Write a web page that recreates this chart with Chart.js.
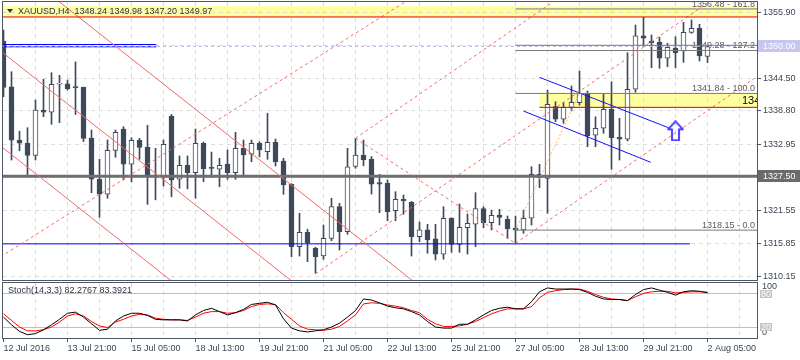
<!DOCTYPE html>
<html><head><meta charset="utf-8">
<script src="https://cdn.jsdelivr.net/npm/chart.js@4/dist/chart.umd.min.js"></script>
<style>
html,body{margin:0;padding:0;background:#fff;width:800px;height:360px;overflow:hidden}
#c1{position:absolute;left:0;top:0}
#c2{position:absolute;left:0;top:281px}
</style></head><body>
<canvas id="c1" width="800" height="282"></canvas>
<canvas id="c2" width="800" height="79"></canvas>
<script>
// ---------------- DATA ----------------
const symbol = 'XAUUSD', timeframe = 'H4';
const opens  = [1350.93,1343.00,1333.77,1333.25,1331.10,1338.97,1338.57,1343.45,1343.50,1342.95,
                1342.90,1334.06,1326.96,1324.36,1331.98,1335.67,1329.56,1333.70,1332.55,1327.50,
                1327.53,1337.93,1326.96,1329.40,1328.10,1333.20,1328.90,1328.70,1329.60,1328.10,
                1332.33,1331.30,1333.20,1331.75,1333.37,1330.13,1326.10,1315.28,1317.77,1315.00,
                1313.66,1316.73,1322.21,1317.88,1329.20,1331.17,1330.42,1326.40,1326.27,1321.52,
                1323.50,1323.00,1317.00,1318.20,1316.62,1313.96,1320.20,1315.69,1318.57,1319.16,
                1321.90,1319.44,1320.77,1320.03,1318.50,1318.17,1320.20,1327.82,1327.13,1339.54,
                1337.36,1339.43,1340.23,1341.86,1334.60,1335.80,1339.10,1334.24,1333.90,1342.56,
                1351.84,1350.93,1350.70,1347.93,1349.67,1349.20,1352.43,1353.13,1348.24];
const highs  = [1352.80,1345.60,1335.30,1335.90,1340.70,1344.29,1345.43,1344.98,1344.17,1347.30,
                1342.95,1335.50,1330.42,1333.77,1335.50,1336.07,1334.17,1334.06,1336.32,1332.33,
                1333.77,1338.20,1331.00,1331.00,1335.67,1333.40,1331.68,1330.60,1332.04,1335.10,
                1333.77,1333.77,1333.47,1338.40,1333.94,1330.60,1326.20,1321.07,1318.30,1315.17,
                1319.04,1323.67,1322.80,1332.33,1334.06,1333.77,1330.90,1327.83,1326.84,1324.81,
                1324.24,1323.10,1319.56,1319.16,1319.16,1322.21,1320.30,1322.68,1320.94,1324.64,
                1322.21,1321.63,1321.76,1320.60,1320.60,1321.63,1329.14,1329.56,1342.43,1340.41,
                1340.30,1343.13,1345.73,1342.26,1337.80,1341.74,1343.87,1337.53,1348.90,1353.70,
                1355.03,1351.97,1351.57,1350.53,1351.67,1354.17,1354.57,1353.82,1349.98];
const lows   = [1341.27,1330.30,1331.90,1327.65,1330.30,1337.80,1336.49,1336.77,1342.43,1338.20,
                1333.50,1324.64,1320.37,1323.67,1330.77,1326.84,1326.49,1330.42,1322.62,1323.40,
                1325.80,1323.94,1325.40,1325.30,1323.67,1326.54,1327.30,1325.67,1326.96,1326.96,
                1327.53,1330.00,1330.87,1330.42,1329.26,1324.36,1313.54,1313.66,1312.68,1310.67,
                1313.10,1316.32,1314.70,1317.43,1328.86,1329.30,1324.40,1321.17,1319.78,1319.78,
                1320.89,1313.66,1316.15,1314.13,1312.97,1313.10,1314.30,1314.30,1314.00,1315.28,
                1318.57,1318.17,1319.04,1316.73,1315.87,1317.60,1319.04,1325.50,1321.07,1336.94,
                1336.66,1338.80,1339.83,1332.60,1332.60,1334.93,1328.69,1330.30,1333.60,1342.04,
                1349.94,1346.30,1346.20,1346.47,1346.30,1347.23,1352.26,1347.46,1347.20];
const closes = [1342.87,1333.75,1333.20,1331.10,1338.97,1338.57,1343.42,1343.60,1342.60,1342.85,
                1334.06,1326.96,1324.36,1331.98,1335.10,1329.56,1333.70,1332.50,1327.53,1327.60,
                1333.02,1326.84,1329.40,1328.10,1333.20,1328.80,1328.85,1329.40,1328.10,1332.33,
                1331.20,1333.20,1332.04,1333.37,1330.00,1325.97,1315.28,1317.77,1315.97,1313.54,
                1316.73,1322.21,1317.88,1329.14,1331.17,1330.30,1326.10,1326.10,1321.34,1323.50,
                1323.20,1317.00,1318.20,1316.44,1313.96,1320.20,1315.69,1318.64,1319.33,1321.90,
                1319.44,1320.72,1320.37,1318.35,1318.15,1320.20,1327.82,1327.23,1339.96,1337.36,
                1339.43,1340.30,1341.84,1334.51,1335.80,1339.10,1334.17,1333.90,1342.56,1351.84,
                1351.40,1350.63,1347.93,1349.84,1348.90,1352.43,1353.13,1348.33,1349.97];
const stochParams = '14,3,3';
const stochK = [38,24,12,6,8,15,24,34,45,47, 38,26,14,16,31,40,45,45,41,34,
                33,33,33,31,42,50,54,48,42,46, 52,61,63,65,60,35,18,13,11,13,
                15,20,27,38,50,71,69,64,58,55, 53,48,42,30,20,18,18,25,25,33,
                42,50,54,56,53,53,66,84,91,89, 89,89,88,83,76,71,70,70,68,79,
                88,91,87,83,78,84,86,85,82.2767];
const stochD = [44,32,20,13,13,15,20,29,40,44, 40,30,22,19,29,34,40,43,42,36,
                34,33,33,32,38,45,48,48,45,46, 50,57,61,62,61,46,34,22,16,15,
                14,16,21,31,42,62,64,63,60,58, 55,50,46,34,26,21,21,22,25,30,
                37,44,49,53,53,53,57,73,83,86, 88,89,89,85,79,74,71,70,68,75,
                81,84,85,85,82,83,84,84,83.3921];
const stochLevels = [20, 80];
const xLabelIdx = [0,8,16,24,32,40,48,56,64,72,80,88];
const xLabels = ['12 Jul 2016','13 Jul 21:00','15 Jul 05:00','18 Jul 13:00','19 Jul 21:00','21 Jul 05:00',
                 '22 Jul 13:00','25 Jul 21:00','27 Jul 05:00','28 Jul 13:00','29 Jul 21:00','2 Aug 05:00'];
const yTickValues = [1310.15,1315.85,1321.55,1327.25,1332.95,1338.80,1344.50,1350.20,1355.90];
const yTickHidden = [1327.25,1350.20];
const supportLevel = 1327.50;
const askLevel = 1350.00;
const blueLevel = 1315.77, blueLevelEnd = 85.8;
const blueTopLevels = [1350.32, 1349.92], blueTopEnd = 19.1;
const zoneTop = [1356.95, 1355.09];
const zoneMid = [1341.84, 1339.43], zoneMidStart = 67;
const fibStart = 64;
const fibLevels = [0, 100, 127.2, 161.8];
const fibPrices = [1318.15, 1341.84, 1349.28, 1356.48];
const fibExtraLine = 1350.18;
const fibAnchors = [[64,1318.15],[72,1341.84]];
const redChannel = [ [[5,1359.88],[52,1308.45]], [[-1,1349.89],[41,1303.88]], [[-1,1333.43],[26,1303.85]] ];
const redDashed = [[-1,1312.97],[52,1359.26]];
const pitchfork = [[39,1310.60],[44,1334.06],[64,1315.87]];
const blueChannel = [ [[67,1344.63],[83.3,1335.80]], [[65,1338.79],[80.9,1329.90]] ];
const arrowPoint = [84, 1335.35];
const boxLabelText = '1340.00';

// ---------------- STYLE ----------------
const XMIN = -0.0625, XMAX = 94.1875;
const YMIN = 1309.505, YMAX = 1357.685;
const CANDLE = '#3e4a5b', FRAME = '#4e5864', GRID = '#dcdcdc', TXT = '#3c4654';
const RED = '#f06a6a', YELLOW = '#ffffa0';
const FONT = '9px "Liberation Sans", Arial, sans-serif';
Chart.defaults.font.family = '"Liberation Sans", Arial, sans-serif';
Chart.defaults.font.size = 9;
Chart.defaults.animation = false;

const idx = opens.map((_, i) => i);
const wickData = idx.map(i => ({x: i, y: [lows[i], highs[i]]}));
const bodyData = idx.map(i => ({x: i, y: [Math.min(opens[i], closes[i]), Math.max(opens[i], closes[i])]}));
const bodyFill = idx.map(i => closes[i] >= opens[i] ? '#ffffff' : CANDLE);

function seg(pts, color, width, dash, order) {
  return {type: 'line', data: pts.map(p => ({x: p[0], y: p[1]})), borderColor: color, borderWidth: width,
          borderDash: dash || [], pointRadius: 0, pointHoverRadius: 0, fill: false, tension: 0,
          order: order === undefined ? 1 : order};
}
const FAR = XMAX + 1;
const lineSets = [];
lineSets.push(seg([[XMIN - 1, zoneTop[1]], [FAR, zoneTop[1]]], '#e00000', 1));
lineSets.push(seg([[zoneMidStart, zoneMid[1]], [FAR, zoneMid[1]]], '#e00000', 1));
redChannel.forEach(l => lineSets.push(seg(l, RED, 1)));
lineSets.push(seg(redDashed, RED, 1, [3, 3]));
const [P1, P2, P3] = pitchfork;
const mid = [(P2[0] + P3[0]) / 2, (P2[1] + P3[1]) / 2];
const pfSlope = (mid[1] - P1[1]) / (mid[0] - P1[0]);
[P1, P2, P3].forEach(p => lineSets.push(seg([p, [FAR, p[1] + pfSlope * (FAR - p[0])]], RED, 1, [3, 3])));
lineSets.push(seg([P2, P3], RED, 1, [3, 3]));
fibPrices.forEach(p => lineSets.push(seg([[fibStart, p], [FAR, p]], '#7a7a7a', 1)));
lineSets.push(seg([[fibStart, fibExtraLine], [FAR, fibExtraLine]], '#7a7a7a', 1));
lineSets.push(seg(fibAnchors, '#ffb46e', 1, [2, 2]));
lineSets.push(seg([[XMIN - 1, askLevel], [FAR, askLevel]], '#b4b4e6', 1, [3, 3]));
blueTopLevels.forEach(v => lineSets.push(seg([[XMIN - 1, v], [blueTopEnd, v]], '#0000ff', 1)));
lineSets.push(seg([[XMIN - 1, blueLevel], [blueLevelEnd, blueLevel]], '#0000ff', 1));
lineSets.push(seg([[XMIN - 1, supportLevel], [FAR, supportLevel]], '#6e6e6e', 3));
blueChannel.forEach(l => lineSets.push(seg(l, '#1010ff', 1)));

const arrow = document.createElement('canvas');
arrow.width = 17; arrow.height = 21;
(function () {
  const c = arrow.getContext('2d');
  c.beginPath();
  c.moveTo(8.5, 1); c.lineTo(16, 9); c.lineTo(12, 9); c.lineTo(12, 20); c.lineTo(5, 20); c.lineTo(5, 9); c.lineTo(1, 9);
  c.closePath();
  c.lineWidth = 2.2; c.strokeStyle = '#8a6cff'; c.stroke();
  c.lineWidth = 1; c.strokeStyle = '#2020ff'; c.stroke();
})();

const mainPlugin = {
  id: 'mainDeco',
  beforeDraw(chart) {
    const {ctx, chartArea: a, scales: {x, y}} = chart;
    ctx.save();
    ctx.beginPath(); ctx.rect(a.left, a.top, a.width, a.height); ctx.clip();
    ctx.fillStyle = YELLOW;
    let y1 = y.getPixelForValue(zoneTop[0]), y2 = y.getPixelForValue(zoneTop[1]);
    ctx.fillRect(a.left, y1, a.width, y2 - y1);
    const xs = x.getPixelForValue(zoneMidStart);
    y1 = y.getPixelForValue(zoneMid[0]); y2 = y.getPixelForValue(zoneMid[1]);
    ctx.fillRect(xs, y1, a.right - xs, y2 - y1);
    ctx.restore();
  },
  beforeDatasetsDraw(chart) {
    const {ctx, chartArea: a, scales: {y}} = chart;
    ctx.save();
    ctx.beginPath(); ctx.rect(a.left, a.top, a.width, a.height); ctx.clip();
    ctx.font = FONT; ctx.fillStyle = '#5a5a5a'; ctx.textAlign = 'right'; ctx.textBaseline = 'alphabetic';
    fibPrices.forEach((p, k) => {
      ctx.fillText(p.toFixed(2) + ' - ' + fibLevels[k].toFixed(1), a.right - 2, y.getPixelForValue(p) - 2);
    });
    ctx.restore();
  },
  afterDatasetsDraw(chart) {
    const {ctx, chartArea: a, scales: {y}} = chart;
    ctx.save();
    ctx.beginPath(); ctx.rect(a.left, a.top, a.width, a.height); ctx.clip();
    ctx.font = '11px "Liberation Sans", Arial, sans-serif'; ctx.fillStyle = '#000';
    ctx.textAlign = 'left'; ctx.textBaseline = 'middle';
    ctx.fillText(boxLabelText, a.right - 15, (y.getPixelForValue(zoneMid[0]) + y.getPixelForValue(zoneMid[1])) / 2 + 1);
    ctx.restore();
  },
  afterDraw(chart) {
    const {ctx, chartArea: a, scales: {y}} = chart;
    ctx.save();
    ctx.strokeStyle = FRAME; ctx.lineWidth = 1;
    ctx.strokeRect(a.left - 0.5, a.top - 0.5, a.width + 1, a.height + 1);
    ctx.fillStyle = '#333';
    ctx.beginPath(); ctx.moveTo(7, 9); ctx.lineTo(13, 9); ctx.lineTo(10, 13); ctx.closePath(); ctx.fill();
    const n = opens.length - 1;
    ctx.font = FONT; ctx.fillStyle = '#2b3440'; ctx.textAlign = 'left'; ctx.textBaseline = 'middle';
    ctx.fillText(symbol + ',' + timeframe + '  ' + [opens[n], highs[n], lows[n], closes[n]].map(v => v.toFixed(2)).join(' '), 18, 11.5);
    const box = (v, bg) => {
      const py = Math.round(y.getPixelForValue(v));
      ctx.fillStyle = bg; ctx.fillRect(a.right + 1, py - 6, 800 - a.right - 1, 12);
      ctx.fillStyle = '#ffffff'; ctx.fillText(v.toFixed(2), 763, py + 0.5);
    };
    box(askLevel, '#c6c6f0');
    box(supportLevel, '#6a6a6a');
    ctx.restore();
  }
};

new Chart(document.getElementById('c1'), {
  type: 'bar',
  data: {
    datasets: [
      ...lineSets,
      {type: 'line', data: [{x: arrowPoint[0], y: arrowPoint[1]}], showLine: false, pointStyle: arrow, pointRadius: 10, order: 0},
      {type: 'bar', data: bodyData, backgroundColor: bodyFill, borderColor: CANDLE, borderWidth: 1, borderSkipped: false,
       barThickness: 5, grouped: false, minBarLength: 1, order: 20},
      {type: 'bar', data: wickData, backgroundColor: CANDLE, borderWidth: 0, barThickness: 1, grouped: false, order: 30}
    ]
  },
  options: {
    responsive: false, devicePixelRatio: 1, events: [],
    layout: {autoPadding: false, padding: {left: 3, top: 2, right: 0, bottom: 2}},
    plugins: {legend: {display: false}, tooltip: {enabled: false}},
    scales: {
      x: {type: 'linear', min: XMIN, max: XMAX, offset: false,
          afterBuildTicks: s => { s.ticks = []; for (let v = 4; v < XMAX; v += 4) s.ticks.push({value: v}); },
          ticks: {display: false}, grid: {color: GRID, drawTicks: false, offset: false},
          border: {display: false, dash: [4, 4]}, afterFit: s => { s.height = 0; s.paddingLeft = 0; s.paddingRight = 0; }},
      y: {type: 'linear', position: 'right', min: YMIN, max: YMAX,
          afterBuildTicks: s => { s.ticks = yTickValues.map(v => ({value: v})); },
          ticks: {color: TXT, font: {size: 9}, padding: 2, callback: v => yTickHidden.includes(v) ? '' : v.toFixed(2)},
          grid: {color: GRID, tickLength: 4, tickColor: FRAME, tickBorderDash: []},
          border: {display: false, dash: [4, 4]},
          afterFit: s => { s.width = 43; s.paddingTop = 0; s.paddingBottom = 0; }}
    }
  },
  plugins: [mainPlugin]
});

const stochPlugin = {
  id: 'stochDeco',
  afterDraw(chart) {
    const {ctx, chartArea: a, scales: {y}} = chart;
    ctx.save();
    ctx.strokeStyle = FRAME; ctx.lineWidth = 1;
    ctx.strokeRect(a.left - 0.5, a.top - 0.5, a.width + 1, a.height + 1);
    ctx.font = FONT; ctx.textAlign = 'left'; ctx.textBaseline = 'middle';
    ctx.fillStyle = '#2b3440';
    const n = stochK.length - 1;
    ctx.fillText('Stoch(' + stochParams + ') ' + stochK[n].toFixed(4) + ' ' + stochD[n].toFixed(4), 8, 10);
    ctx.fillStyle = TXT;
    ctx.fillText('100', 762, y.getPixelForValue(100) + 4);
    ctx.fillText('0', 762, y.getPixelForValue(0) - 5);
    stochLevels.forEach(v => {
      const py = Math.round(y.getPixelForValue(v));
      ctx.fillStyle = '#c4c4c4'; ctx.fillRect(760, py - 4, 12, 8);
      ctx.fillStyle = '#ffffff'; ctx.fillText(String(v), 761, py + 0.5);
    });
    ctx.restore();
  }
};

new Chart(document.getElementById('c2'), {
  type: 'line',
  data: {
    datasets: [
      {data: idx.map(i => ({x: i, y: stochK[i]})), borderColor: '#000000', borderWidth: 1, pointRadius: 0, tension: 0, fill: false},
      {data: idx.map(i => ({x: i, y: stochD[i]})), borderColor: '#ff0000', borderWidth: 1, pointRadius: 0, tension: 0, fill: false}
    ]
  },
  options: {
    responsive: false, devicePixelRatio: 1, events: [],
    layout: {autoPadding: false, padding: {left: 3, top: 2, right: 0, bottom: 0}},
    plugins: {legend: {display: false}, tooltip: {enabled: false}},
    scales: {
      x: {type: 'linear', min: XMIN, max: XMAX, offset: false,
          afterBuildTicks: s => { s.ticks = xLabelIdx.map(v => ({value: v})); },
          ticks: {autoSkip: false, maxRotation: 0, minRotation: 0, align: 'start', padding: 1, color: TXT, font: {size: 9},
                  callback: v => xLabels[xLabelIdx.indexOf(v)]},
          grid: {drawOnChartArea: false, tickLength: 4, tickColor: FRAME, color: FRAME},
          border: {display: false}, afterFit: s => { s.height = 22; s.paddingLeft = 0; s.paddingRight = 0; }},
      x2: {type: 'linear', position: 'bottom', min: XMIN, max: XMAX, offset: false,
           afterBuildTicks: s => { s.ticks = []; for (let v = 4; v < XMAX; v += 4) s.ticks.push({value: v}); },
           ticks: {display: false}, grid: {color: GRID, drawTicks: false},
           border: {display: false, dash: [4, 4]}, afterFit: s => { s.height = 0; s.paddingLeft = 0; s.paddingRight = 0; }},
      y: {type: 'linear', position: 'right', min: 0, max: 100,
          afterBuildTicks: s => { s.ticks = stochLevels.map(v => ({value: v})); },
          ticks: {display: false}, grid: {color: '#c0c0c0', drawTicks: false},
          border: {display: false}, afterFit: s => { s.width = 43; s.paddingTop = 0; s.paddingBottom = 0; }}
    }
  },
  plugins: [stochPlugin]
});
</script>
</body></html>
